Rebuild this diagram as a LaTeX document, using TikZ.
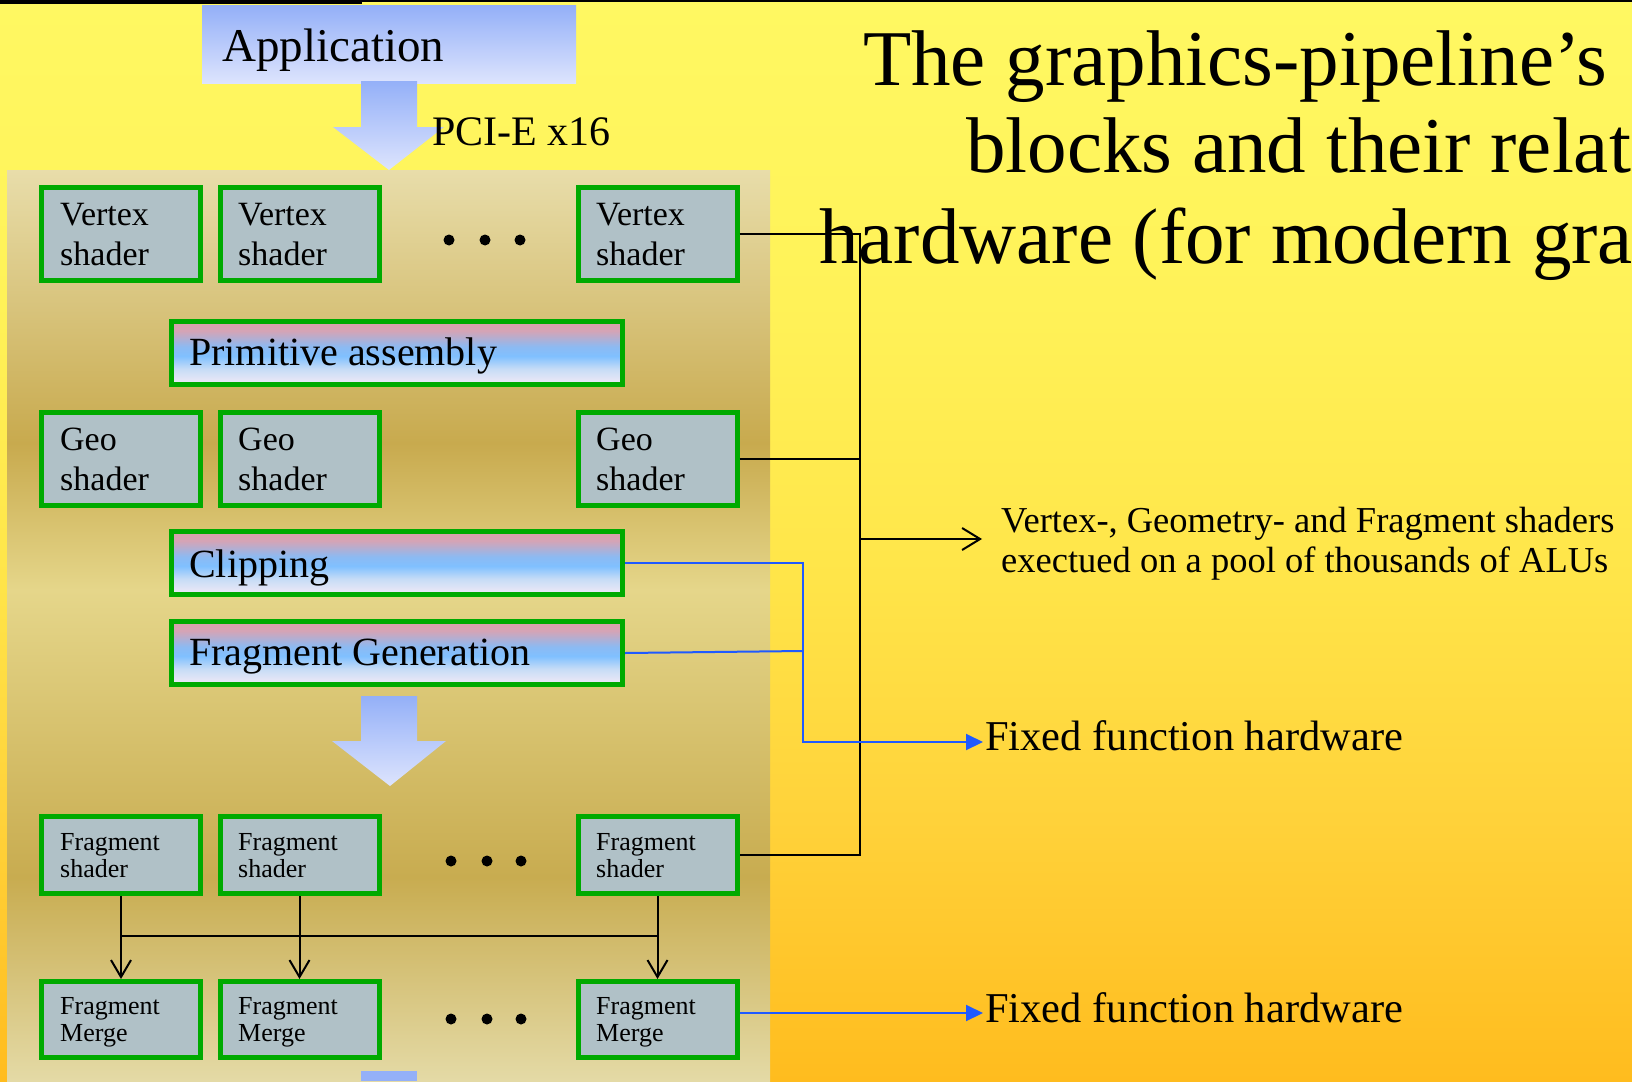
\documentclass[tikz,border=0pt]{standalone}
\usepackage{fontspec}
\setmainfont{Liberation Serif}
\usetikzlibrary{arrows.meta}
\definecolor{bga}{HTML}{FFF862}
\definecolor{bgb}{HTML}{FFF258}
\definecolor{bgc}{HTML}{FFE64A}
\definecolor{bgd}{HTML}{FFD23A}
\definecolor{bge}{HTML}{FFBC1E}
\definecolor{pna}{HTML}{E8DDAA}
\definecolor{pnb}{HTML}{C8AA4E}
\definecolor{pnc}{HTML}{E5D68A}
\definecolor{pnd}{HTML}{C8AC50}
\definecolor{pne}{HTML}{E4DAA6}
\definecolor{bpink}{HTML}{DCA0A8}
\definecolor{bpinkb}{HTML}{D4A4B6}
\definecolor{bblue}{HTML}{80C0FF}
\definecolor{bblueb}{HTML}{8CBAF2}
\definecolor{bbluec}{HTML}{C6DCF6}
\definecolor{bwhite}{HTML}{F2EAF6}
\definecolor{boxgreen}{HTML}{00AA00}
\definecolor{boxfill}{HTML}{B0C1C7}
\definecolor{ablueA}{HTML}{94B0F8}
\definecolor{ablueB}{HTML}{DDE4FD}
\definecolor{lineblue}{HTML}{1F5AFF}
\pgfdeclareverticalshading{bgshade}{100bp}{color(0bp)=(bge); color(25bp)=(bge); color(37.1bp)=(bgd); color(49.1bp)=(bgc); color(61.1bp)=(bgb); color(75bp)=(bga); color(100bp)=(bga)}
\pgfdeclareverticalshading{panelshade}{100bp}{color(0bp)=(pne); color(25bp)=(pne); color(36.2bp)=(pnd); color(51.95bp)=(pnc); color(60bp)=(pnb); color(75bp)=(pna); color(100bp)=(pna)}
\pgfdeclareverticalshading{barshade}{100bp}{color(0bp)=(bwhite); color(25bp)=(bwhite); color(37.5bp)=(bbluec); color(47.5bp)=(bblue); color(55bp)=(bblueb); color(67.5bp)=(bpinkb); color(75bp)=(bpink); color(100bp)=(bpink)}
\begin{document}
\begin{tikzpicture}[x=1pt,y=-1pt,
  sbox/.style={draw=boxgreen, line width=5pt, fill=boxfill, minimum width=159pt, minimum height=93pt, inner sep=0pt, outer sep=2.5pt},
  fbox/.style={sbox, minimum height=77pt},
  mbox/.style={sbox, minimum height=76pt},
  bar/.style={draw=boxgreen, line width=5pt, shading=barshade, minimum width=451pt, minimum height=63pt, inner sep=0pt, outer sep=2.5pt},
  lbl/.style={anchor=base west, align=left, inner sep=0pt, text=black},
  big/.style={lbl, font=\fontsize{34}{40}\selectfont},
  small/.style={lbl, font=\fontsize{26}{26.5}\selectfont},
  barlbl/.style={lbl, font=\fontsize{40}{44}\selectfont},
  conn/.style={draw=black, line width=2pt},
  bconn/.style={draw=lineblue, line width=2pt},
  barb/.style={-{Straight Barb[length=17pt,width=20pt,line width=2pt]}},
  tri/.style={-{Triangle[length=17pt,width=16pt]}},
  blockarrow/.style={top color=ablueA, bottom color=ablueB, draw=none}
]
\useasboundingbox (0,0) rectangle (1632,1081);
\clip (0,0) rectangle (1632,1081);
% backgrounds
\shade[shading=bgshade] (0,0) rectangle (1632,1081);
\fill[black] (0,0) rectangle (362,4.5);
\fill[black] (362,0) rectangle (1632,2);
\shade[shading=panelshade] (7,170) rectangle (770,1081);
% application
\node[blockarrow, minimum width=374pt, minimum height=77pt, inner sep=0pt] (app) at (389,44.5) {};
\node[lbl, font=\fontsize{47}{50}\selectfont] (appt) at (222,61) {Application};
\shade[blockarrow] (361,81) -- (417,81) -- (417,127) -- (444,127) -- (389,170) -- (333,127) -- (361,127) -- cycle;
\node[lbl, font=\fontsize{42}{44}\selectfont] (pci) at (432,145) {PCI-E x16};
% vertex row (base anchor = last line)
\node[sbox] (v1) at (121,234) {};
\node[sbox] (v2) at (299.5,234) {};
\node[sbox] (v3) at (657.5,234) {};
\node[big] (v1t) at (60,265) {Vertex\\shader};
\node[big] (v2t) at (238,265) {Vertex\\shader};
\node[big] (v3t) at (596,265) {Vertex\\shader};
\fill (449,240) circle (5.5) (485,240) circle (5.5) (520,240) circle (5.5);
% primitive assembly
\node[bar] (pa) at (397,353) {};
\node[barlbl] (pat) at (189,365) {Primitive assembly};
% geo row
\node[sbox] (g1) at (121,459) {};
\node[sbox] (g2) at (299.5,459) {};
\node[sbox] (g3) at (657.5,459) {};
\node[big] (g1t) at (60,490) {Geo\\shader};
\node[big] (g2t) at (238,490) {Geo\\shader};
\node[big] (g3t) at (596,490) {Geo\\shader};
% clipping, fragment generation
\node[bar] (cl) at (397,563) {};
\node[barlbl] (clt) at (189,577) {Clipping};
\node[bar] (fg) at (397,653) {};
\node[barlbl] (fgt) at (189,665) {Fragment Generation};
\shade[blockarrow] (361,696) -- (417,696) -- (417,741) -- (446,741) -- (390,786) -- (332,741) -- (361,741) -- cycle;
% fragment shader row
\node[fbox] (f1) at (121,855) {};
\node[fbox] (f2) at (299.5,855) {};
\node[fbox] (f3) at (657.5,855) {};
\node[small] (f1t) at (60,877) {Fragment\\shader};
\node[small] (f2t) at (238,877) {Fragment\\shader};
\node[small] (f3t) at (596,877) {Fragment\\shader};
\fill (451,861) circle (5.5) (487,861) circle (5.5) (521,861) circle (5.5);
% merge row
\node[mbox] (m1) at (121,1019.5) {};
\node[mbox] (m2) at (299.5,1019.5) {};
\node[mbox] (m3) at (657.5,1019.5) {};
\node[small] (m1t) at (60,1041) {Fragment\\Merge};
\node[small] (m2t) at (238,1041) {Fragment\\Merge};
\node[small] (m3t) at (596,1041) {Fragment\\Merge};
\fill (451,1019) circle (5.5) (487,1019) circle (5.5) (521,1019) circle (5.5);
\fill[ablueA] (361,1071) rectangle (417,1081);
% fragment shader -> merge connectors
\coordinate (hl) at (0,936);
\draw[conn] (f1.south |- hl) -- (f3.south |- hl);
\draw[conn,barb] (f1.south) -- (m1.north);
\draw[conn,barb] (f2.south) -- (m2.north);
\draw[conn,barb] (f3.south) -- (m3.north);
% title
\node[lbl, font=\fontsize{79}{88}\selectfont] (t1) at (863,85) {The graphics-pipeline’s};
\node[lbl, font=\fontsize{79}{88}\selectfont] (t2) at (966,172) {blocks and their relat};
\node[lbl, font=\fontsize{79}{88}\selectfont] (t3) at (819,263) {hardware (for modern gra};
% right texts
\node[lbl, font=\fontsize{36.5}{40}\selectfont] (alu) at (1001,572) {Vertex-, Geometry- and Fragment shaders\\exectued on a pool of thousands of ALUs};
\node[lbl, font=\fontsize{42.5}{46}\selectfont] (fx1) at (985,750) {Fixed function hardware};
\node[lbl, font=\fontsize{42.5}{46}\selectfont] (fx2) at (985,1022) {Fixed function hardware};
% black bus
\coordinate (bus) at (860,0);
\coordinate (alutip) at (982,539);
\draw[conn] (v3.east) -- (v3.east -| bus) -- (f3.east -| bus) -- (f3.east);
\draw[conn] (g3.east) -- (g3.east -| bus);
\draw[conn,-{Straight Barb[length=18pt,width=22pt,line width=2pt]}] (alutip -| bus) -- (alutip);
% blue connectors
\coordinate (bx) at (803,0);
\coordinate (fx1tip) at (983,742);
\coordinate (fx2tip) at (983,1013);
\coordinate (fgj) at (803,651);
\draw[bconn,tri] (cl.east) -- (cl.east -| bx) -- (fx1tip -| bx) -- (fx1tip);
\draw[bconn] (fg.east) -- (fgj);
\draw[bconn,tri] (m3.east |- fx2tip) -- (fx2tip);
\end{tikzpicture}
\end{document}
